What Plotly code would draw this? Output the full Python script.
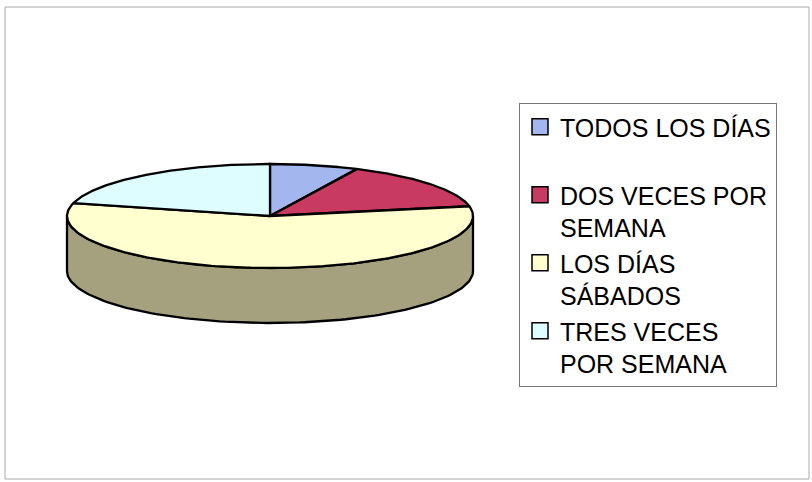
import numpy as np
import plotly.graph_objects as go

# ---- data ----
categories = ["TODOS LOS DÍAS", "DOS VECES POR SEMANA", "LOS DÍAS SÁBADOS", "TRES VECES POR SEMANA"]
legend_labels = ["TODOS LOS DÍAS<br>\u00a0", "DOS VECES POR<br>SEMANA", "LOS DÍAS<br>SÁBADOS", "TRES VECES<br>POR SEMANA"]
values = [7, 15, 57, 21]

# ---- style ----
top_colors = ["#A4B6EE", "#C83A62", "#FFFFCF", "#DDFDFF"]
side_colors = ["#6E7CA6", "#8A2844", "#A5A17F", "#98AEB0"]
W, H = 812, 482
cx, cy, rx, ry, depth = 270, 216, 203, 52, 55

def pt(theta, dy=0.0):
    return cx + rx * np.sin(theta), cy - ry * np.cos(theta) + dy

fig = go.Figure()

total = sum(values)
angles = np.cumsum([0] + values) / total * 2 * np.pi

# side faces (front half only: theta in [pi/2, 3pi/2])
for i in range(len(values)):
    a, b = angles[i], angles[i + 1]
    lo, hi = max(a, np.pi / 2), min(b, 3 * np.pi / 2)
    if hi <= lo:
        continue
    t = np.linspace(lo, hi, 120)
    xt, yt = pt(t)
    xb, yb = pt(t[::-1], depth)
    xs = np.concatenate([xt, xb, xt[:1]])
    ys = np.concatenate([yt, yb, yt[:1]])
    fig.add_trace(go.Scatter(x=xs, y=ys, mode="lines", fill="toself",
                             fillcolor=side_colors[i], line=dict(color="black", width=2.3),
                             showlegend=False, hoverinfo="skip"))

# top faces
for i in range(len(values)):
    a, b = angles[i], angles[i + 1]
    t = np.linspace(a, b, 200)
    xa, ya = pt(t)
    xs = np.concatenate([[cx], xa, [cx]])
    ys = np.concatenate([[cy], ya, [cy]])
    fig.add_trace(go.Scatter(x=xs, y=ys, mode="lines", fill="toself",
                             fillcolor=top_colors[i], line=dict(color="black", width=2.3),
                             showlegend=False, name=categories[i],
                             hoverinfo="name"))

# legend entries
for i in range(len(values)):
    fig.add_trace(go.Scatter(x=[None], y=[None], mode="markers", name=legend_labels[i],
                             marker=dict(symbol="square", size=16, color=top_colors[i],
                                         line=dict(color="black", width=1.5)),
                             showlegend=True))

fig.update_layout(
    width=W, height=H,
    margin=dict(l=0, r=0, t=0, b=0),
    paper_bgcolor="white", plot_bgcolor="white",
    xaxis=dict(range=[0, W], visible=False, fixedrange=True),
    yaxis=dict(range=[H, 0], visible=False, fixedrange=True),
    showlegend=True,
    legend=dict(x=519 / W, y=1 - 103 / H, xanchor="left", yanchor="top",
                font=dict(family="Arial, Liberation Sans", size=25, color="black"),
                bgcolor="white", bordercolor="#777777", borderwidth=1,
                valign="top", tracegroupgap=0, itemwidth=30, traceorder="normal"),
    shapes=[dict(type="rect", xref="paper", yref="paper",
                 x0=5 / W, x1=809 / W, y0=1 - 479 / H, y1=1 - 7 / H,
                 line=dict(color="#AAAAAA", width=1))],
)

fig.write_html("out.html")
